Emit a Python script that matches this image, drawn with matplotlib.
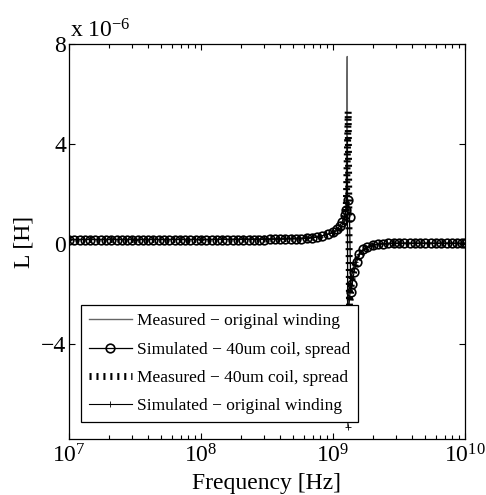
import numpy as np
import matplotlib
matplotlib.use("Agg")
import matplotlib.pyplot as plt
from matplotlib.ticker import LogLocator, NullFormatter, FixedLocator

plt.rcParams['font.family'] = ['Liberation Serif', 'DejaVu Serif']
plt.rcParams['mathtext.fontset'] = 'custom'
plt.rcParams['mathtext.rm'] = 'Liberation Serif'
plt.rcParams['mathtext.it'] = 'Liberation Serif:italic'
plt.rcParams['mathtext.bf'] = 'Liberation Serif:bold'

# ---------------- data (frequency as log10 exponent, L in units of 1e-6 H) -------------
labels = ["Measured \u2212 original winding",
          "Simulated \u2212 40um coil, spread",
          "Measured \u2212 40um coil, spread",
          "Simulated \u2212 original winding"]

exp_meas_orig = [7.0, 8.0, 8.5, 8.8, 8.9, 9.0, 9.05, 9.08, 9.10, 9.108, 9.112,
                 9.12, 9.14, 9.17, 9.2, 9.25, 9.3, 9.4, 9.5, 10.0]
L_meas_orig = [0.18, 0.18, 0.2, 0.24, 0.3, 0.45, 0.6, 0.85, 1.4, 7.5, -6.0,
               -2.0, -1.2, -0.6, -0.35, -0.15, -0.05, 0.02, 0.03, 0.03]

exp_sim_40 = [7.00, 7.04, 7.08, 7.12, 7.16, 7.20, 7.24, 7.28, 7.32, 7.36,
              7.40, 7.44, 7.48, 7.52, 7.56, 7.60, 7.64, 7.68, 7.72, 7.76,
              7.80, 7.84, 7.88, 7.92, 7.96, 8.00, 8.04, 8.08, 8.12, 8.16,
              8.20, 8.24, 8.28, 8.32, 8.36, 8.40, 8.44, 8.48, 8.52, 8.56,
              8.60, 8.64, 8.68, 8.72, 8.76, 8.80, 8.84, 8.88, 8.92, 8.96,
              9.00, 9.03, 9.05, 9.07, 9.09, 9.10, 9.115, 9.125, 9.135, 9.145,
              9.16, 9.18, 9.20, 9.23, 9.26, 9.30, 9.34, 9.38, 9.42, 9.46,
              9.50, 9.54, 9.58, 9.62, 9.66, 9.70, 9.74, 9.78, 9.82, 9.86,
              9.90, 9.94, 9.98, 10.00]
L_sim_40 = [0.18, 0.18, 0.18, 0.18, 0.18, 0.18, 0.18, 0.18, 0.18, 0.18,
            0.18, 0.18, 0.18, 0.18, 0.18, 0.18, 0.18, 0.18, 0.18, 0.18,
            0.18, 0.18, 0.18, 0.18, 0.18, 0.18, 0.18, 0.18, 0.18, 0.18,
            0.18, 0.18, 0.18, 0.18, 0.18, 0.18, 0.18, 0.18, 0.19, 0.19,
            0.19, 0.19, 0.20, 0.20, 0.21, 0.23, 0.25, 0.28, 0.33, 0.39,
            0.48, 0.60, 0.72, 0.90, 1.15, 1.35, 1.75, 1.10, -1.90, -1.60,
            -1.10, -0.70, -0.40, -0.20, -0.10, -0.03, 0.00, 0.02, 0.03, 0.03,
            0.03, 0.03, 0.03, 0.03, 0.03, 0.03, 0.03, 0.03, 0.03, 0.03,
            0.03, 0.03, 0.03, 0.03]

exp_meas_40 = [7.0, 8.0, 8.5, 8.8, 8.9, 9.0, 9.05, 9.08, 9.10, 9.115, 9.125,
               9.14, 9.17, 9.2, 9.25, 9.3, 9.4, 9.5, 10.0]
L_meas_40 = [0.18, 0.18, 0.2, 0.24, 0.3, 0.45, 0.6, 0.85, 1.3, 5.3, -2.6,
             -1.5, -0.8, -0.45, -0.2, -0.08, 0.02, 0.03, 0.03]

exp_sim_orig = [7.0, 7.5, 8.0, 8.5, 8.8, 8.9, 9.0, 9.05, 9.08, 9.10, 9.108,
                9.113, 9.12, 9.14, 9.17, 9.2, 9.25, 9.3, 9.4, 9.5, 9.75, 10.0]
L_sim_orig = [0.18, 0.18, 0.18, 0.2, 0.24, 0.3, 0.45, 0.6, 0.85, 1.5, 4.2,
              -7.3, -2.5, -1.3, -0.7, -0.4, -0.18, -0.06, 0.02, 0.03, 0.03, 0.03]

yticks = [-4, 0, 4, 8]
ytick_labels = ["\u22124", "0", "4", "8"]

# ---------------- figure ----------------
fig = plt.figure(figsize=(4.86, 4.95), dpi=100)
ax = fig.add_axes([69/486, 1 - 439/495, 396/486, 395/495])

fs = 17

ax.plot(10**np.array(exp_meas_orig), L_meas_orig, color='#666666', lw=1.0,
        label=labels[0], zorder=2)
ax.plot(10**np.array(exp_sim_40), L_sim_40, color='black', lw=0.9, marker='o',
        markersize=6.2, markerfacecolor='none', markeredgewidth=1.2,
        label=labels[1], zorder=3)
ax.plot(10**np.array(exp_meas_40), L_meas_40, color='black', lw=5,
        linestyle=(0, (0.3, 0.7)), dash_capstyle='butt',
        label=labels[2], zorder=4)
ax.plot(10**np.array(exp_sim_orig), L_sim_orig, color='black', lw=0.8,
        marker='+', markersize=4, markeredgewidth=0.6,
        label=labels[3], zorder=5)

ax.set_xscale('log')
ax.set_xlim(1e7, 1e10)
ax.set_ylim(-7.8, 8)
ax.yaxis.set_major_locator(FixedLocator(yticks))
ax.set_yticklabels(ytick_labels)
ax.xaxis.set_major_locator(LogLocator(base=10, numticks=10))
ax.xaxis.set_minor_locator(LogLocator(base=10, subs=np.arange(2, 10), numticks=20))
ax.xaxis.set_minor_formatter(NullFormatter())

ax.tick_params(which='both', direction='in', top=True, right=True, labelsize=fs,
               width=0.8)
ax.tick_params(which='major', length=4.5)
ax.tick_params(which='minor', length=3)
ax.tick_params(axis='y', pad=2)
ax.tick_params(axis='x', pad=4)
for s in ax.spines.values():
    s.set_linewidth(0.9)

ax.set_xlabel('Frequency [Hz]', fontsize=fs, labelpad=4)
ax.set_ylabel('L [H]', fontsize=fs, labelpad=5)

ax.annotate(r'x $\mathdefault{10^{-6}}$', xy=(0, 1), xycoords='axes fraction',
            xytext=(1, 5), textcoords='offset points', fontsize=fs,
            ha='left', va='baseline')

leg = ax.legend(loc='lower left', bbox_to_anchor=(0.03, 0.043), borderaxespad=0,
                fontsize=12.5, frameon=True, fancybox=False, framealpha=1,
                edgecolor='black', handlelength=2.5, handletextpad=0.3,
                labelspacing=0.7, borderpad=0.45)
leg.get_frame().set_linewidth(0.9)
leg.set_zorder(10)

fig.savefig('out.png', dpi=100)
